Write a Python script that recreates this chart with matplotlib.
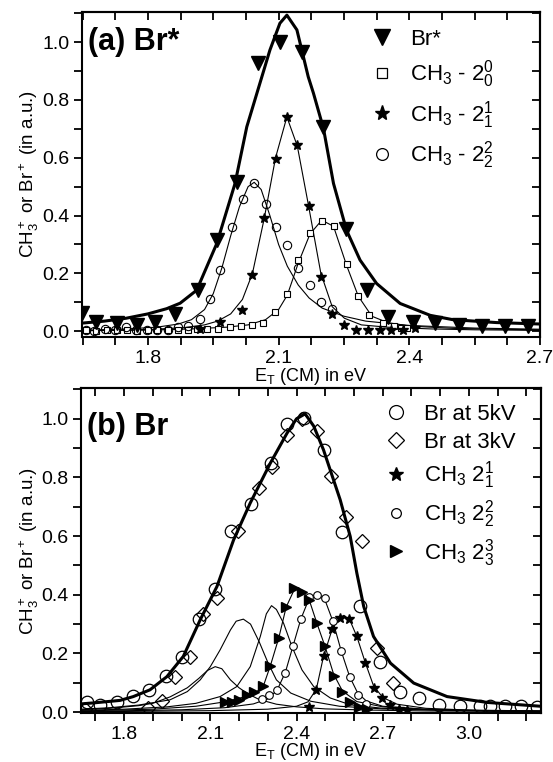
import numpy as np
import matplotlib
matplotlib.use('Agg')
import matplotlib.pyplot as plt
from matplotlib.ticker import MultipleLocator
from matplotlib.lines import Line2D

plt.rcParams['font.family'] = 'Liberation Sans'
plt.rcParams['mathtext.fontset'] = 'custom'
plt.rcParams['mathtext.rm'] = 'Liberation Sans'
plt.rcParams['mathtext.it'] = 'Liberation Sans:italic'
plt.rcParams['mathtext.bf'] = 'Liberation Sans:bold'

# ---------------- panel (a): Br* ----------------
brs_x = [1.648, 1.682, 1.728, 1.774, 1.816, 1.862, 1.916, 1.958, 2.004, 2.053, 2.103,
         2.153, 2.203, 2.255, 2.302, 2.352, 2.408, 2.459, 2.513, 2.566, 2.620, 2.673]
brs_y = [0.062, 0.032, 0.029, 0.021, 0.032, 0.061, 0.142, 0.315, 0.517, 0.926, 1.001,
         0.966, 0.706, 0.355, 0.142, 0.050, 0.032, 0.029, 0.021, 0.017, 0.017, 0.017]
brs_fit_x = [1.648, 1.70, 1.75, 1.80, 1.843, 1.874, 1.912, 1.958, 2.000, 2.027, 2.057,
             2.080, 2.103, 2.119, 2.142, 2.168, 2.180, 2.203, 2.226, 2.256, 2.287, 2.325,
             2.379, 2.448, 2.50, 2.60, 2.70]
brs_fit_y = [0.028, 0.035, 0.045, 0.060, 0.078, 0.097, 0.142, 0.303, 0.511, 0.707, 0.857,
             0.972, 1.065, 1.093, 1.042, 0.880, 0.823, 0.701, 0.511, 0.349, 0.246, 0.165,
             0.096, 0.055, 0.040, 0.030, 0.025]

sq_x = [1.658, 1.682, 1.705, 1.728, 1.752, 1.775, 1.800, 1.822, 1.846, 1.870, 1.893,
        1.912, 1.935, 1.962, 1.988, 2.013, 2.040, 2.065, 2.092, 2.119, 2.145, 2.172,
        2.199, 2.228, 2.256, 2.283, 2.308, 2.340, 2.365, 2.380, 2.395]
sq_y = [0.004, 0.002, 0.005, 0.003, 0.004, 0.002, 0.003, 0.004, 0.005, 0.006, 0.006,
        0.008, 0.009, 0.009, 0.013, 0.017, 0.021, 0.029, 0.067, 0.130, 0.246, 0.338,
        0.381, 0.363, 0.232, 0.121, 0.055, 0.027, 0.017, 0.012, 0.012]
sq_fit_x = [1.65, 1.80, 1.90, 1.98, 2.03, 2.07, 2.10, 2.12, 2.145, 2.172, 2.199, 2.226,
            2.256, 2.283, 2.314, 2.35, 2.40, 2.50, 2.60, 2.70]
sq_fit_y = [0.002, 0.004, 0.008, 0.014, 0.022, 0.040, 0.075, 0.125, 0.235, 0.336, 0.384,
            0.363, 0.228, 0.121, 0.052, 0.030, 0.018, 0.010, 0.007, 0.005]

st_x = [1.920, 1.965, 2.017, 2.040, 2.067, 2.093, 2.119, 2.143, 2.170, 2.197, 2.223,
        2.251, 2.278, 2.306, 2.332, 2.359, 2.386, 2.413]
st_y = [0.009, 0.033, 0.073, 0.194, 0.390, 0.595, 0.740, 0.644, 0.433, 0.188, 0.061,
        0.021, 0.005, 0.003, 0.004, 0.006, 0.006, 0.010]
st_fit_x = [1.65, 1.80, 1.88, 1.93, 1.96, 1.99, 2.017, 2.040, 2.067, 2.093, 2.119, 2.143,
            2.168, 2.197, 2.223, 2.251, 2.29, 2.35, 2.45, 2.55, 2.70]
st_fit_y = [0.002, 0.006, 0.012, 0.022, 0.035, 0.060, 0.110, 0.200, 0.390, 0.600, 0.741,
            0.640, 0.440, 0.200, 0.085, 0.045, 0.022, 0.014, 0.008, 0.005, 0.003]

ci_x = [1.658, 1.677, 1.701, 1.724, 1.750, 1.773, 1.797, 1.820, 1.847, 1.870, 1.893,
        1.920, 1.943, 1.966, 1.992, 2.018, 2.044, 2.070, 2.094, 2.119, 2.145, 2.172,
        2.197, 2.223]
ci_y = [0.003, 0.000, 0.009, 0.006, 0.013, 0.006, 0.003, 0.006, 0.003, 0.013, 0.017,
        0.044, 0.113, 0.211, 0.361, 0.459, 0.513, 0.439, 0.361, 0.297, 0.217, 0.159,
        0.101, 0.078]
ci_fit_x = [1.65, 1.75, 1.82, 1.87, 1.90, 1.93, 1.95, 1.97, 1.99, 2.01, 2.03, 2.044,
            2.06, 2.08, 2.10, 2.12, 2.145, 2.17, 2.20, 2.25, 2.30, 2.40, 2.55, 2.70]
ci_fit_y = [0.003, 0.008, 0.014, 0.025, 0.040, 0.075, 0.130, 0.220, 0.330, 0.430, 0.500,
            0.515, 0.490, 0.400, 0.300, 0.225, 0.160, 0.115, 0.080, 0.052, 0.035, 0.020,
            0.011, 0.007]

# ---------------- panel (b): Br ----------------
br_fit_x = [1.65, 1.70, 1.786, 1.832, 1.89, 1.949, 2.006, 2.065, 2.123, 2.181, 2.239,
            2.309, 2.367, 2.40, 2.43, 2.46, 2.494, 2.552, 2.587, 2.610, 2.634, 2.668,
            2.727, 2.808, 2.924, 3.064, 3.25]
br_fit_y = [0.028, 0.032, 0.040, 0.053, 0.076, 0.121, 0.190, 0.315, 0.428, 0.587, 0.713,
            0.849, 0.951, 1.000, 1.017, 0.975, 0.894, 0.724, 0.599, 0.474, 0.360, 0.258,
            0.167, 0.099, 0.053, 0.033, 0.020]

kv5_x = [1.672, 1.716, 1.775, 1.830, 1.888, 1.945, 2.001, 2.061, 2.118, 2.173, 2.242,
         2.311, 2.367, 2.425, 2.494, 2.558, 2.622, 2.692, 2.760, 2.825, 2.895, 2.970,
         3.040, 3.075, 3.127, 3.180, 3.237]
kv5_y = [0.036, 0.025, 0.036, 0.056, 0.074, 0.124, 0.188, 0.318, 0.421, 0.616, 0.710,
         0.849, 0.982, 1.002, 0.894, 0.614, 0.361, 0.171, 0.068, 0.048, 0.025, 0.020,
         0.020, 0.022, 0.022, 0.020, 0.018]

kv3_x = [1.665, 1.884, 1.931, 1.977, 2.030, 2.074, 2.123, 2.195, 2.268, 2.314, 2.367,
         2.420, 2.471, 2.520, 2.574, 2.628, 2.680, 2.735]
kv3_y = [0.012, 0.014, 0.039, 0.119, 0.188, 0.335, 0.389, 0.616, 0.764, 0.837, 0.945,
         1.000, 0.957, 0.806, 0.665, 0.584, 0.217, 0.099]

tri_x = [2.152, 2.175, 2.200, 2.227, 2.253, 2.285, 2.309, 2.338, 2.364, 2.390, 2.419,
         2.445, 2.471, 2.500, 2.529, 2.558, 2.587, 2.616, 2.645]
tri_y = [0.033, 0.036, 0.040, 0.058, 0.068, 0.088, 0.157, 0.252, 0.358, 0.423, 0.411,
         0.383, 0.303, 0.224, 0.124, 0.067, 0.036, 0.019, 0.012]
tri_fit_x = [1.65, 1.90, 2.05, 2.15, 2.22, 2.26, 2.285, 2.309, 2.338, 2.364, 2.396, 2.42,
             2.445, 2.471, 2.50, 2.529, 2.56, 2.61, 2.70, 2.85, 3.05, 3.25]
tri_fit_y = [0.004, 0.010, 0.020, 0.035, 0.052, 0.068, 0.090, 0.158, 0.252, 0.358, 0.426,
             0.415, 0.380, 0.303, 0.222, 0.130, 0.072, 0.036, 0.018, 0.009, 0.005, 0.003]

sc_x = [2.280, 2.306, 2.332, 2.361, 2.388, 2.415, 2.445, 2.471, 2.498, 2.527, 2.556,
        2.585, 2.613, 2.643]
sc_y = [0.044, 0.057, 0.074, 0.135, 0.226, 0.317, 0.394, 0.400, 0.389, 0.309, 0.207,
        0.121, 0.059, 0.028]
sc_fit_x = [1.65, 2.00, 2.15, 2.25, 2.30, 2.332, 2.361, 2.388, 2.415, 2.445, 2.471, 2.498,
            2.527, 2.556, 2.585, 2.613, 2.643, 2.70, 2.85, 3.05, 3.25]
sc_fit_y = [0.002, 0.008, 0.015, 0.028, 0.045, 0.074, 0.135, 0.226, 0.317, 0.390, 0.403,
            0.385, 0.309, 0.207, 0.121, 0.065, 0.038, 0.020, 0.010, 0.005, 0.003]

bst_x = [2.445, 2.469, 2.494, 2.525, 2.552, 2.581, 2.610, 2.640, 2.668, 2.698, 2.727,
         2.756, 2.785]
bst_y = [0.016, 0.077, 0.191, 0.285, 0.320, 0.317, 0.258, 0.167, 0.082, 0.048, 0.025,
         0.010, 0.006]
bst_fit_x = [1.65, 2.10, 2.30, 2.40, 2.44, 2.469, 2.494, 2.525, 2.55, 2.565, 2.585, 2.61,
             2.64, 2.668, 2.70, 2.75, 2.85, 3.00, 3.25]
bst_fit_y = [0.001, 0.005, 0.010, 0.020, 0.035, 0.078, 0.190, 0.285, 0.322, 0.330, 0.315,
             0.258, 0.167, 0.090, 0.050, 0.027, 0.013, 0.007, 0.004]

# unassigned components (no markers)
cA_x = [1.65, 1.75, 1.85, 1.90, 1.96, 2.02, 2.06, 2.09, 2.117, 2.14, 2.17, 2.20, 2.23,
        2.27, 2.33, 2.40, 2.50, 2.65, 2.85, 3.25]
cA_y = [0.008, 0.013, 0.022, 0.030, 0.052, 0.083, 0.115, 0.142, 0.155, 0.148, 0.110,
        0.083, 0.063, 0.043, 0.027, 0.018, 0.011, 0.007, 0.004, 0.002]
cB_x = [1.65, 1.75, 1.85, 1.96, 2.02, 2.065, 2.10, 2.134, 2.17, 2.19, 2.215, 2.24, 2.27,
        2.30, 2.33, 2.38, 2.45, 2.55, 2.70, 3.00, 3.25]
cB_y = [0.010, 0.015, 0.024, 0.042, 0.070, 0.110, 0.155, 0.212, 0.280, 0.310, 0.317,
        0.300, 0.240, 0.170, 0.110, 0.065, 0.037, 0.020, 0.011, 0.005, 0.003]
cC_x = [1.65, 1.80, 1.95, 2.05, 2.134, 2.192, 2.239, 2.274, 2.295, 2.313, 2.33, 2.355,
        2.384, 2.419, 2.46, 2.518, 2.587, 2.70, 2.90, 3.25]
cC_y = [0.006, 0.010, 0.018, 0.030, 0.053, 0.087, 0.155, 0.258, 0.335, 0.363, 0.350,
        0.303, 0.224, 0.144, 0.087, 0.048, 0.025, 0.013, 0.007, 0.003]

xlabel = 'E$_\\mathrm{T}$ (CM) in eV'
ylabel = 'CH$_3^+$ or Br$^+$ (in a.u.)'
THICK = 2.2
THIN = 0.8


def style_axes(ax, xlim, ylim, xminor):
    ax.set_xlim(*xlim)
    ax.set_ylim(*ylim)
    ax.xaxis.set_major_locator(MultipleLocator(0.3))
    ax.xaxis.set_minor_locator(MultipleLocator(xminor))
    ax.yaxis.set_major_locator(MultipleLocator(0.2))
    ax.yaxis.set_minor_locator(MultipleLocator(0.1))
    ax.tick_params(which='both', direction='out', length=6, width=1.3, labelsize=14, pad=3)
    for s in ax.spines.values():
        s.set_linewidth(1.5)
    top = ax.secondary_xaxis('top')
    top.xaxis.set_major_locator(MultipleLocator(0.3))
    top.xaxis.set_minor_locator(MultipleLocator(xminor))
    top.tick_params(which='both', direction='in', length=6, width=1.3, labeltop=False)
    top.spines['top'].set_linewidth(1.5)
    right = ax.secondary_yaxis('right')
    right.yaxis.set_major_locator(MultipleLocator(0.2))
    right.yaxis.set_minor_locator(MultipleLocator(0.1))
    right.tick_params(which='both', direction='in', length=6, width=1.3, labelright=False)
    right.spines['right'].set_linewidth(1.5)
    ax.set_ylabel(ylabel, fontsize=13.5)
    ax.yaxis.set_label_coords(-0.088, 0.5)
    ax.set_xlabel(xlabel, fontsize=13)


fig = plt.figure(figsize=(5.53, 7.62), dpi=100)

# ---- (a)
ax1 = fig.add_axes([0.1477, 0.5577, 0.8288, 0.4266])
style_axes(ax1, (1.648, 2.70), (-0.02, 1.104), 0.075)
ax1.xaxis.set_label_coords(0.5, -0.088)
ax1.plot(sq_fit_x, sq_fit_y, 'k-', lw=THIN)
ax1.plot(st_fit_x, st_fit_y, 'k-', lw=THIN)
ax1.plot(ci_fit_x, ci_fit_y, 'k-', lw=THIN)
ax1.plot(brs_fit_x, brs_fit_y, 'k-', lw=THICK)
ax1.plot(sq_x, sq_y, ls='none', marker='s', ms=5, mfc='white', mec='k', mew=0.8)
ax1.plot(ci_x, ci_y, ls='none', marker='o', ms=6, mfc='none', mec='k', mew=0.8)
ax1.plot(st_x, st_y, ls='none', marker='*', ms=7.5, color='k')
ax1.plot(brs_x, brs_y, ls='none', marker='v', ms=10, color='k', clip_on=True)
ax1.text(0.014, 0.955, '(a) Br*', transform=ax1.transAxes, fontsize=22,
         fontweight='bold', va='top', ha='left')
h1 = [Line2D([], [], ls='none', marker='v', ms=12, color='k'),
      Line2D([], [], ls='none', marker='s', ms=7.5, mfc='white', mec='k', mew=0.9),
      Line2D([], [], ls='none', marker='*', ms=11, color='k'),
      Line2D([], [], ls='none', marker='o', ms=8.5, mfc='none', mec='k', mew=0.9)]
l1 = ['Br*', 'CH$_3$ - 2$^0_0$', 'CH$_3$ - 2$^1_1$', 'CH$_3$ - 2$^2_2$']
ax1.legend(h1, l1, loc='upper left', bbox_to_anchor=(0.63, 0.948), frameon=False,
           fontsize=16, handlelength=1.0, handletextpad=0.8, labelspacing=0.38,
           borderpad=0, borderaxespad=0)

# ---- (b)
ax2 = fig.add_axes([0.1465, 0.0643, 0.8313, 0.4265])
style_axes(ax2, (1.65, 3.25), (-0.003, 1.105), 0.1)
ax2.xaxis.set_label_coords(0.5, -0.086)
for cx, cy in [(cA_x, cA_y), (cB_x, cB_y), (cC_x, cC_y), (tri_fit_x, tri_fit_y),
               (sc_fit_x, sc_fit_y), (bst_fit_x, bst_fit_y)]:
    ax2.plot(cx, cy, 'k-', lw=THIN)
ax2.plot(br_fit_x, br_fit_y, 'k-', lw=THICK)
ax2.plot(kv5_x, kv5_y, ls='none', marker='o', ms=9, mfc='none', mec='k', mew=0.9)
ax2.plot(kv3_x, kv3_y, ls='none', marker='D', ms=7, mfc='none', mec='k', mew=0.9)
ax2.plot(bst_x, bst_y, ls='none', marker='*', ms=7.5, color='k')
ax2.plot(sc_x, sc_y, ls='none', marker='o', ms=5.5, mfc='white', mec='k', mew=0.8)
ax2.plot(tri_x, tri_y, ls='none', marker='>', ms=6.5, color='k')
ax2.text(0.014, 0.925, '(b) Br', transform=ax2.transAxes, fontsize=22,
         fontweight='bold', va='top', ha='left')
h2 = [Line2D([], [], ls='none', marker='o', ms=10, mfc='none', mec='k', mew=0.9),
      Line2D([], [], ls='none', marker='D', ms=8, mfc='none', mec='k', mew=0.9),
      Line2D([], [], ls='none', marker='*', ms=10, color='k'),
      Line2D([], [], ls='none', marker='o', ms=7, mfc='none', mec='k', mew=0.9),
      Line2D([], [], ls='none', marker='>', ms=9, color='k')]
l2 = ['Br at 5kV', 'Br at 3kV', 'CH$_3$ 2$^1_1$', 'CH$_3$ 2$^2_2$', 'CH$_3$ 2$^3_3$']
ax2.legend(h2, l2, loc='upper left', bbox_to_anchor=(0.66, 0.95), frameon=False,
           fontsize=16, handlelength=1.0, handletextpad=0.8, labelspacing=0.3,
           borderpad=0, borderaxespad=0)

fig.savefig('out.png', dpi=100)
